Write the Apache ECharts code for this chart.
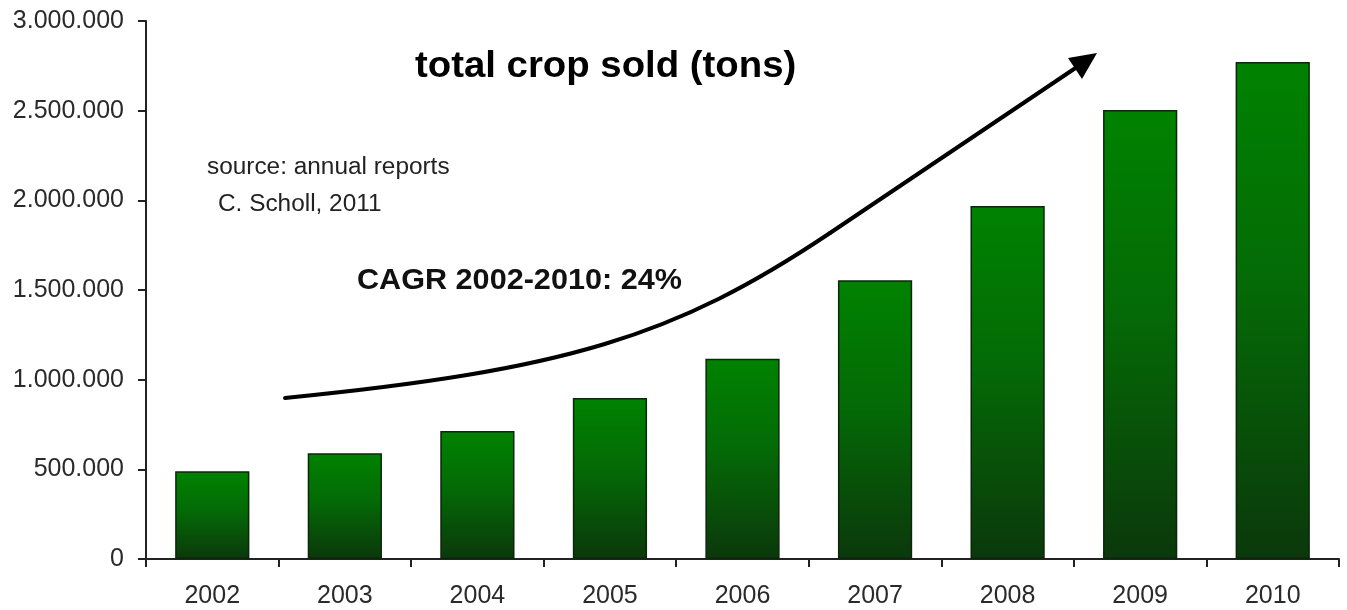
<!DOCTYPE html>
<html>
<head>
<meta charset="utf-8">
<script src="https://cdn.jsdelivr.net/npm/echarts@6/dist/echarts.min.js"></script>
<style>
  html, body { margin: 0; padding: 0; background: #fff; }
  #runChart { width: 1347px; height: 610px; }
</style>
</head>
<body>
<div id="runChart"></div>
<script>
let years = ["2002", "2003", "2004", "2005", "2006", "2007", "2008", "2009", "2010"];
let cropSold = [490000, 590000, 714000, 898000, 1116000, 1555000, 1968000, 2504000, 2772000];
let yTicks = [0, 500000, 1000000, 1500000, 2000000, 2500000, 3000000];

function dots(v) {
  return String(v).replace(/\B(?=(\d{3})+(?!\d))/g, ".");
}

let fontFam = "'Liberation Sans', Arial, sans-serif";

let option = {
  backgroundColor: "#ffffff",
  animation: false,
  grid: {
    left: 146,
    right: 8,
    top: 21,
    bottom: 51,
    containLabel: false
  },
  xAxis: {
    type: "category",
    data: years,
    boundaryGap: true,
    axisLine: { lineStyle: { color: "#222", width: 2 } },
    axisTick: { show: true, length: 8, lineStyle: { color: "#222", width: 2 } },
    axisLabel: { color: "#2a2a2a", fontSize: 25, fontFamily: fontFam, margin: 25 }
  },
  yAxis: {
    type: "value",
    min: yTicks[0],
    max: yTicks[yTicks.length - 1],
    interval: yTicks[1] - yTicks[0],
    axisLine: { show: true, lineStyle: { color: "#222", width: 2 } },
    axisTick: { show: true, length: 8, lineStyle: { color: "#222", width: 2 } },
    splitLine: { show: false },
    axisLabel: {
      color: "#2a2a2a",
      fontSize: 25,
      fontFamily: fontFam,
      margin: 22,
      formatter: dots
    }
  },
  series: [
    {
      type: "bar",
      data: cropSold,
      barCategoryGap: "44%",
      itemStyle: {
        borderColor: "#0b260b",
        borderWidth: 1.5,
        color: new echarts.graphic.LinearGradient(0, 0, 0, 1, [
          { offset: 0, color: "#008200" },
          { offset: 0.45, color: "#046a06" },
          { offset: 1, color: "#0b380b" }
        ])
      }
    }
  ],
  graphic: [
    // growth arrow (decoration): curved part, straight part, head
    {
      type: "bezierCurve",
      shape: { x1: 285, y1: 398, cpx1: 566, cpy1: 370, cpx2: 675, cpy2: 337, x2: 830, y2: 233 },
      style: { stroke: "#000", lineWidth: 4, fill: null, lineCap: "round" },
      z: 100
    },
    {
      type: "line",
      shape: { x1: 830, y1: 233, x2: 1077, y2: 67 },
      style: { stroke: "#000", lineWidth: 4, lineCap: "round" },
      z: 100
    },
    {
      type: "polygon",
      shape: { points: [[1097, 53], [1082, 79], [1068, 58]] },
      style: { fill: "#000" },
      z: 100
    },
    {
      type: "text",
      x: 415,
      y: 67,
      scaleX: 1.065,
      style: {
        text: "total crop sold (tons)",
        fontSize: 36,
        fontWeight: "bold",
        fontFamily: fontFam,
        fill: "#000",
        align: "left",
        verticalAlign: "middle"
      },
      z: 100
    },
    {
      type: "text",
      x: 207,
      y: 168,
      scaleX: 1.06,
      style: {
        text: "source: annual reports",
        fontSize: 23,
        fontFamily: fontFam,
        fill: "#222",
        align: "left",
        verticalAlign: "middle"
      },
      z: 100
    },
    {
      type: "text",
      x: 218,
      y: 205,
      scaleX: 1.06,
      style: {
        text: "C. Scholl, 2011",
        fontSize: 23,
        fontFamily: fontFam,
        fill: "#222",
        align: "left",
        verticalAlign: "middle"
      },
      z: 100
    },
    {
      type: "text",
      x: 357,
      y: 281,
      scaleX: 1.02,
      style: {
        text: "CAGR 2002-2010: 24%",
        fontSize: 30,
        fontWeight: "bold",
        fontFamily: fontFam,
        fill: "#111",
        align: "left",
        verticalAlign: "middle"
      },
      z: 100
    }
  ]
};

var myChart = echarts.init(document.getElementById("runChart"));
myChart.setOption(option);
</script>
</body>
</html>
